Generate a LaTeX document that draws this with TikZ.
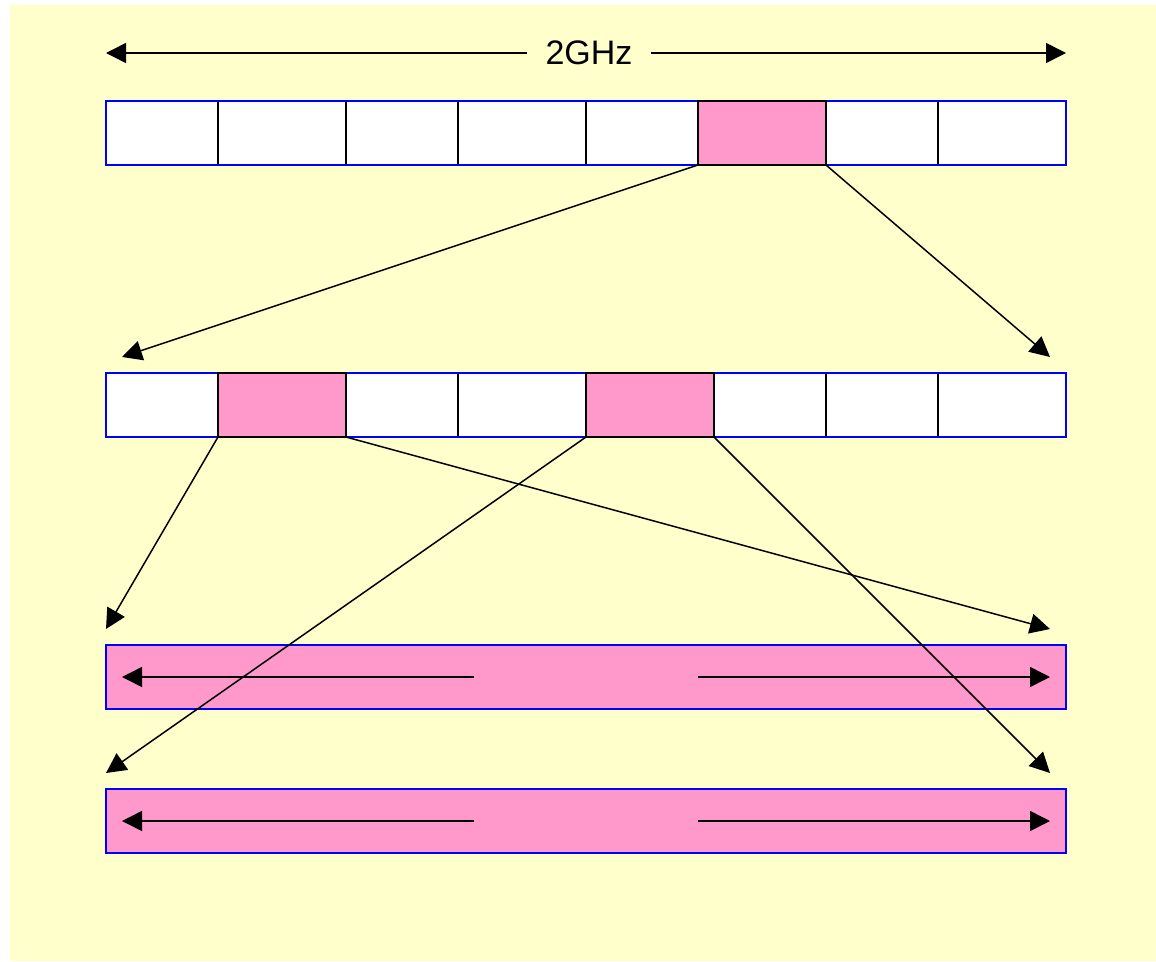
\documentclass[tikz,border=0pt]{standalone}
\usepackage{fontspec}
\setmainfont{Liberation Sans}
\usetikzlibrary{arrows.meta}

\definecolor{paper}{HTML}{FFFFCC}
\definecolor{hotpink}{HTML}{FF99CC}

\begin{document}
\begin{tikzpicture}[x=1pt, y=-1pt, >={Triangle[length=20pt,width=20pt]}, line width=1.5pt]
        \tikzset{
           cell/.style={
                        rectangle,
                        draw=black,
                        fill=white,
                        anchor=north west,
                        minimum height=64pt,
                        inner sep=0pt,
                        outer sep=0pt
                       },
           hot/.style={
                        cell,
                        fill=hotpink
                       },
           bar/.style={
                        rectangle,
                        draw=blue,
                        line width=2.5pt,
                        fill=none,
                        anchor=north west,
                        minimum width=960pt,
                        minimum height=64pt,
                        inner sep=0pt,
                        outer sep=0pt
                       },
           hotbar/.style={
                        bar,
                        fill=hotpink
                       },
           label/.style={
                        font=\fontsize{34}{40}\selectfont,
                        inner xsep=18pt
                       },
                 };
    %--------------------
        \useasboundingbox (0,0) rectangle (1156,961);
        \fill[paper] (10,5) rectangle (1156,961);

        \node[label] (ghz) at (589,53) {2GHz};
        \coordinate (gL) at (106,53);
        \coordinate (gR) at (1066,53);

        % first band
        \foreach \n/\x/\w in {1/106/112, 2/218/128, 3/346/112, 4/458/128, 5/586/112, 7/826/112, 8/938/128}
            \node[cell, minimum width=\w pt] (a\n) at (\x,101) {};
        \node[bar]                         (barA) at (106,101) {};
        \node[hot, minimum width=128pt]    (a6)   at (698,101) {};

        % second band
        \foreach \n/\x/\w in {1/106/112, 3/346/112, 4/458/128, 6/714/112, 7/826/112, 8/938/128}
            \node[cell, minimum width=\w pt] (b\n) at (\x,373) {};
        \node[bar]                         (barB) at (106,373) {};
        \node[hot, minimum width=128pt]    (b2)   at (218,373) {};
        \node[hot, minimum width=128pt]    (b5)   at (586,373) {};

        % full bands
        \node[hotbar] (barC) at (106,645) {};
        \node[hotbar] (barD) at (106,789) {};
    %--------------------
        \coordinate (tA) at (122,357);
        \coordinate (tB) at (1050,357);
        \coordinate (tC) at (106,629);
        \coordinate (tD) at (1050,629);
        \coordinate (tE) at (106,773);
        \coordinate (tF) at (1050,773);

        \coordinate (c1) at (474,677);
        \coordinate (c2) at (122,677);
        \coordinate (c3) at (698,677);
        \coordinate (c4) at (1050,677);
        \coordinate (d1) at (474,821);
        \coordinate (d2) at (122,821);
        \coordinate (d3) at (698,821);
        \coordinate (d4) at (1050,821);

        \draw[->] (ghz.west) -- (gL);
        \draw[->] (ghz.east) -- (gR);

        \draw[->] (a6.south west) -- (tA);
        \draw[->] (a6.south east) -- (tB);

        \draw[->] (b2.south west) -- (tC);
        \draw[->] (b2.south east) -- (tD);
        \draw[->] (b5.south west) -- (tE);
        \draw[->] (b5.south east) -- (tF);

        \draw[->] (c1) -- (c2);
        \draw[->] (c3) -- (c4);
        \draw[->] (d1) -- (d2);
        \draw[->] (d3) -- (d4);
    \end{tikzpicture}
\end{document}
